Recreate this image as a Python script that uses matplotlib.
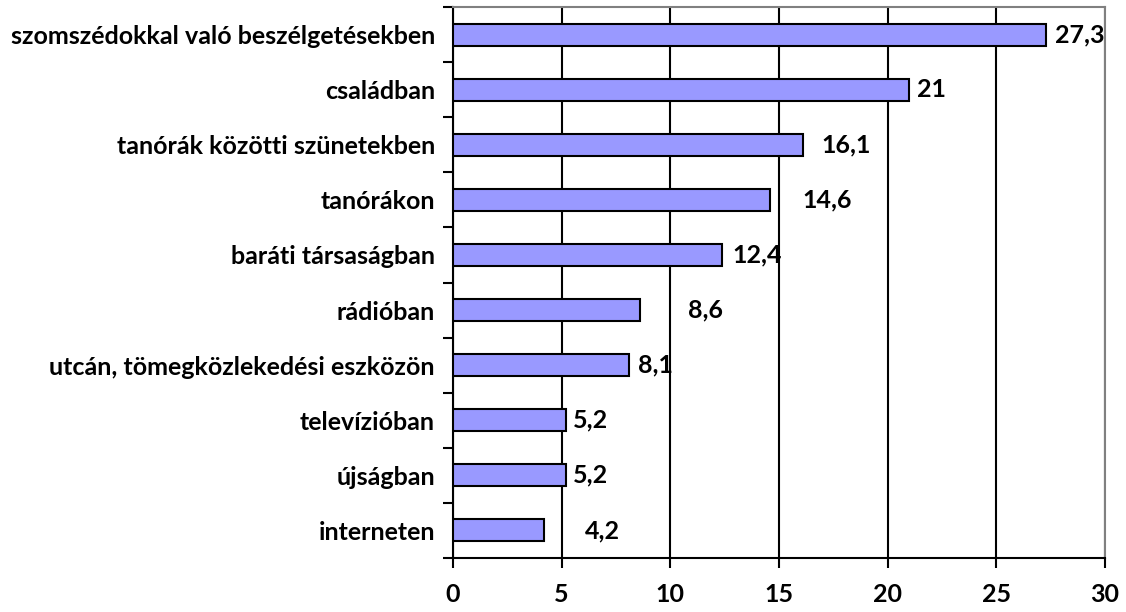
import matplotlib
matplotlib.use("Agg")
import matplotlib.pyplot as plt

# categories, top to bottom
categories = [
    "szomszédokkal való beszélgetésekben",
    "családban",
    "tanórák közötti szünetekben",
    "tanórákon",
    "baráti társaságban",
    "rádióban",
    "utcán, tömegközlekedési eszközön",
    "televízióban",
    "újságban",
    "interneten",
]
values = [27.3, 21, 16.1, 14.6, 12.4, 8.6, 8.1, 5.2, 5.2, 4.2]
value_labels = ["27,3", "21", "16,1", "14,6", "12,4", "8,6", "8,1", "5,2", "5,2", "4,2"]
x_ticks = [0, 5, 10, 15, 20, 25, 30]

# label gap after the bar end, in pixels (excel placed them unevenly)
label_gap = [9, 8, 19, 32, 10, 48, 9, 7, 7, 41]

plt.rcParams['font.family'] = ['Lato', 'DejaVu Sans']
plt.rcParams['font.weight'] = 'bold'
FS = 18

fig = plt.figure(figsize=(11.26, 6.12), dpi=100)
ax = fig.add_axes([453 / 1126, 1 - 558 / 612, (1105 - 453) / 1126, (558 - 7) / 612])

n = len(categories)
ypos = list(range(n))
ax.barh(ypos, values, height=0.4, color="#9999FF", edgecolor="black", linewidth=1.5, zorder=3)

for y, v, lab, gap in zip(ypos, values, value_labels, label_gap):
    ax.annotate(lab, (v, y), xytext=(gap, 0), textcoords="offset pixels",
                ha="left", va="center", fontsize=FS, fontweight="bold", zorder=4)

ax.set_xlim(0, 30)
ax.set_ylim(n - 0.5, -0.5)
ax.set_xticks(x_ticks)
ax.set_xticklabels([str(t) for t in x_ticks], fontsize=FS, fontweight="bold")
ax.set_yticks([y for y in ypos])
ax.set_yticklabels(categories, fontsize=FS, fontweight="bold")

# category boundary ticks on the left, not centred on labels
ax.set_yticks([y - 0.5 for y in range(n + 1)], minor=True)
ax.tick_params(axis="y", which="major", length=0, pad=13)
ax.tick_params(axis="y", which="minor", length=7, width=1.5, direction="out")
ax.tick_params(axis="x", which="major", length=7, width=1.5, direction="out", pad=11)

ax.grid(axis="x", color="black", linewidth=1.5, zorder=1)
ax.set_axisbelow(True)

ax.spines["left"].set_linewidth(1.5)
ax.spines["bottom"].set_linewidth(1.5)
ax.spines["top"].set_color("#808080")
ax.spines["right"].set_color("#808080")
ax.spines["top"].set_linewidth(1.5)
ax.spines["right"].set_linewidth(1.5)

fig.savefig("out.png", dpi=100)
